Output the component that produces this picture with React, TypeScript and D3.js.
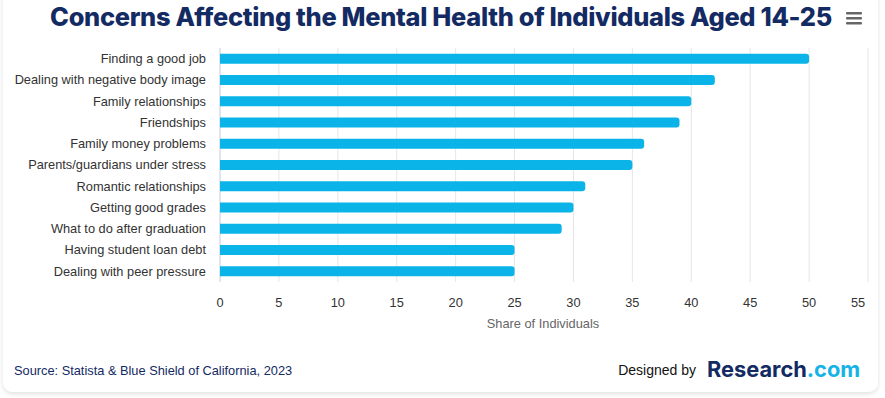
import * as React from 'react';
import * as d3 from 'd3';

const categories = [
  'Finding a good job',
  'Dealing with negative body image',
  'Family relationships',
  'Friendships',
  'Family money problems',
  'Parents/guardians under stress',
  'Romantic relationships',
  'Getting good grades',
  'What to do after graduation',
  'Having student loan debt',
  'Dealing with peer pressure',
];
const values = [50, 42, 40, 39, 36, 35, 31, 30, 29, 25, 25];
const xTicks = [0, 5, 10, 15, 20, 25, 30, 35, 40, 45, 50, 55];

const W = 885;
const H = 398;
const plot = { left: 220, right: 868, top: 48, bottom: 282 };

export default function App() {
  const x = d3.scaleLinear().domain([0, 55]).range([plot.left, plot.right]);
  const y = d3
    .scaleBand()
    .domain(categories)
    .range([plot.top, plot.bottom])
    .paddingInner(0.53)
    .paddingOuter(0.27);

  const font = 'Arial, "Liberation Sans", sans-serif';

  React.useEffect(() => {
    document.body.style.margin = '0';
    document.body.style.background = '#ffffff';
  }, []);

  return (
    <svg width={W} height={H} style={{ display: 'block' }} fontFamily={font}>
      <defs>
        <filter id="shadow" x="-5%" y="-5%" width="110%" height="115%">
          <feDropShadow dx="0" dy="2" stdDeviation="2.5" floodColor="#000" floodOpacity="0.12" />
        </filter>
      </defs>
      <rect x={3} y={-20} width={875} height={412} rx={10} fill="#fff" filter="url(#shadow)" />

      <text
        x={441}
        y={26}
        textAnchor="middle"
        fontFamily='Inter, "Noto Sans", sans-serif'
        fontWeight={800}
        fontSize={25.4}
        fill="#132a63"
        letterSpacing={-0.3}
      >
        Concerns Affecting the Mental Health of Individuals Aged 14-25
      </text>
      <g fill="#666">
        {[0, 1, 2].map(i => (
          <rect key={i} x={846} y={12 + i * 5} width={16} height={2.4} rx={1} />
        ))}
      </g>

      {/* grid */}
      {xTicks.map(t => (
        <line key={t} x1={x(t)} x2={x(t)} y1={plot.top} y2={plot.bottom} stroke="#e6e6e6" strokeWidth={1} />
      ))}
      <line x1={plot.left} x2={plot.left} y1={plot.top} y2={plot.bottom} stroke="#ccd6eb" strokeWidth={1} />

      {/* bars */}
      {categories.map((c, i) => {
        const bx = x(0);
        const bw = x(values[i]) - x(0);
        const by = y(c) as number;
        const bh = y.bandwidth();
        const r = 3;
        const d = `M${bx},${by}H${bx + bw - r}Q${bx + bw},${by} ${bx + bw},${by + r}V${by + bh - r}Q${bx + bw},${by + bh} ${bx + bw - r},${by + bh}H${bx}Z`;
        return <path key={c} d={d} fill="#0ab4e8" />;
      })}

      {/* category labels */}
      {categories.map(c => (
        <text
          key={c}
          x={206}
          y={(y(c) as number) + y.bandwidth() / 2}
          dy="0.35em"
          textAnchor="end"
          fontSize={12.8}
          fill="#333"
        >
          {c}
        </text>
      ))}

      {/* x tick labels */}
      {xTicks.map(t => (
        <text
          key={t}
          x={t === 55 ? x(t) - 10 : x(t)}
          y={307}
          textAnchor="middle"
          fontSize={12.8}
          fill="#333"
        >
          {t}
        </text>
      ))}
      <text x={(plot.left + plot.right) / 2 - 1} y={328} textAnchor="middle" fontSize={12.8} fill="#666">
        Share of Individuals
      </text>

      {/* footer */}
      <text x={14} y={375} fontSize={12.8} fill="#132a63">
        Source: Statista &amp; Blue Shield of California, 2023
      </text>
      <text x={696} y={375} textAnchor="end" fontSize={14} fill="#111">
        Designed by
      </text>
      <text x={707} y={377} fontFamily='Inter, "Noto Sans", sans-serif' fontWeight={700} fontSize={21.8}>
        <tspan fill="#132a63">Research</tspan>
        <tspan fill="#17b3e6">.com</tspan>
      </text>
    </svg>
  );
}
